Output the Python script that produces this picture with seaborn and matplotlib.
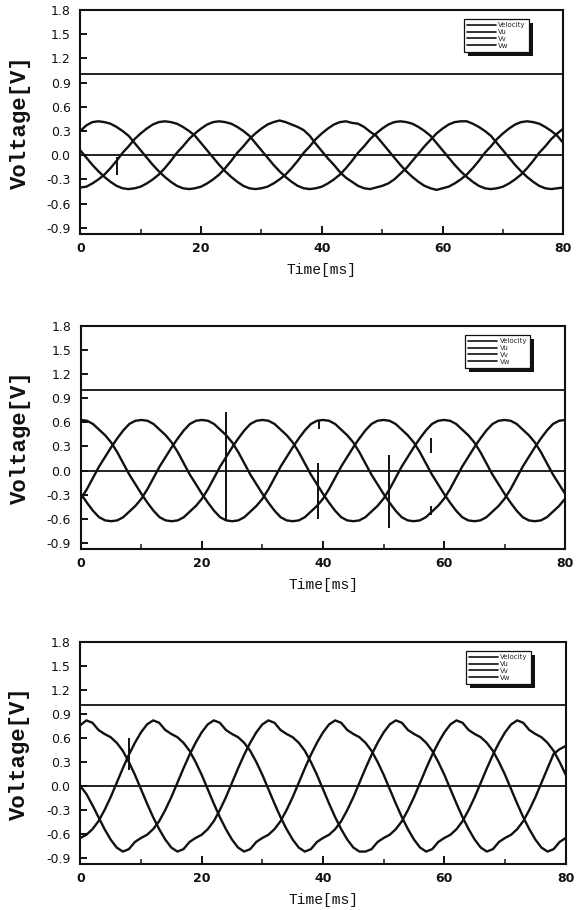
import numpy as np
import pandas as pd
import matplotlib.pyplot as plt
import seaborn as sns
from matplotlib.lines import Line2D
from matplotlib.patches import Rectangle

# sample times in ms (1 ms steps)
t = list(range(0, 81))

# ---- panel 1 (small amplitude) ----
vel_1 = [1.0, 1.0]
vu_1 = [0.30, 0.37, 0.41,
        0.42, 0.41, 0.39, 0.35, 0.30, 0.24, 0.15, 0.06, -0.03, -0.12, -0.20, -0.27, -0.33, -0.38, -0.41,
        -0.42, -0.41, -0.39, -0.35, -0.30, -0.24, -0.16, -0.07, 0.03, 0.11, 0.20, 0.27, 0.33, 0.38, 0.41,
        0.43, 0.41, 0.38, 0.35, 0.31, 0.24, 0.14, 0.05, -0.04, -0.12, -0.21, -0.28, -0.33, -0.38, -0.41,
        -0.42, -0.40, -0.38, -0.35, -0.30, -0.23, -0.16, -0.07, 0.02, 0.11, 0.19, 0.27, 0.33, 0.38, 0.41,
        0.42, 0.42, 0.39, 0.35, 0.30, 0.24, 0.15, 0.06, -0.03, -0.12, -0.20, -0.27, -0.33, -0.38, -0.41,
        -0.42, -0.41, -0.40]
vv_1 = [-0.40, -0.39, -0.35, -0.30, -0.24, -0.16, -0.07, 0.03, 0.11, 0.20, 0.27, 0.33, 0.38, 0.41,
        0.42, 0.41, 0.39, 0.35, 0.30, 0.24, 0.15, 0.06, -0.03, -0.12, -0.20, -0.27, -0.33, -0.38, -0.41,
        -0.42, -0.41, -0.39, -0.35, -0.30, -0.24, -0.16, -0.07, 0.03, 0.11, 0.20, 0.27, 0.33, 0.38, 0.41,
        0.42, 0.40, 0.39, 0.35, 0.29, 0.24, 0.15, 0.06, -0.03, -0.12, -0.20, -0.27, -0.33, -0.38, -0.41,
        -0.43, -0.41, -0.39, -0.35, -0.30, -0.24, -0.16, -0.07, 0.03, 0.11, 0.20, 0.27, 0.33, 0.38, 0.41,
        0.42, 0.41, 0.39, 0.35, 0.30, 0.24, 0.15]
vw_1 = [0.06, -0.03, -0.12, -0.20, -0.27, -0.33, -0.38, -0.41, -0.42, -0.41, -0.39, -0.35, -0.30,
        -0.24, -0.16, -0.07, 0.03, 0.11, 0.20, 0.27, 0.33, 0.38, 0.41,
        0.42, 0.41, 0.39, 0.35, 0.30, 0.24, 0.15, 0.06, -0.03, -0.12, -0.20, -0.27, -0.33, -0.38, -0.41,
        -0.42, -0.41, -0.39, -0.35, -0.30, -0.24, -0.16, -0.07, 0.03, 0.11, 0.20, 0.27, 0.33, 0.38, 0.41,
        0.42, 0.41, 0.39, 0.35, 0.30, 0.24, 0.15, 0.06, -0.03, -0.12, -0.20, -0.27, -0.33, -0.38, -0.41,
        -0.42, -0.41, -0.39, -0.35, -0.30, -0.24, -0.16, -0.07, 0.03, 0.11, 0.20, 0.27, 0.33]
spike_t_1 = [6.0]
spike_lo_1 = [-0.24]
spike_hi_1 = [-0.02]

# ---- panel 2 (medium amplitude) ----
vel_2 = [1.0, 1.0]
vu_2 = [0.63, 0.62, 0.58, 0.51, 0.44, 0.35, 0.23, 0.09, -0.05, -0.17, -0.29, -0.40, -0.50, -0.58, -0.62,
        -0.63, -0.62, -0.58, -0.51, -0.44, -0.35, -0.23, -0.09, 0.05, 0.17, 0.29, 0.40, 0.50, 0.58, 0.62,
        0.63, 0.62, 0.58, 0.51, 0.44, 0.35, 0.23, 0.09, -0.05, -0.17, -0.29, -0.40, -0.50, -0.58, -0.62,
        -0.63, -0.62, -0.58, -0.51, -0.44, -0.35, -0.23, -0.09, 0.05, 0.17, 0.29, 0.40, 0.50, 0.58, 0.62,
        0.63, 0.62, 0.58, 0.51, 0.44, 0.35, 0.23, 0.09, -0.05, -0.17, -0.29, -0.40, -0.50, -0.58, -0.62,
        -0.63, -0.62, -0.58, -0.51, -0.44, -0.35]
vv_2 = [-0.35, -0.23, -0.09, 0.05, 0.17, 0.29, 0.40, 0.50, 0.58, 0.62,
        0.63, 0.62, 0.58, 0.51, 0.44, 0.35, 0.23, 0.09, -0.05, -0.17, -0.29, -0.40, -0.50, -0.58, -0.62,
        -0.63, -0.62, -0.58, -0.51, -0.44, -0.35, -0.23, -0.09, 0.05, 0.17, 0.29, 0.40, 0.50, 0.58, 0.62,
        0.63, 0.62, 0.58, 0.51, 0.44, 0.35, 0.23, 0.09, -0.05, -0.17, -0.29, -0.40, -0.50, -0.58, -0.62,
        -0.63, -0.62, -0.58, -0.51, -0.44, -0.35, -0.23, -0.09, 0.05, 0.17, 0.29, 0.40, 0.50, 0.58, 0.62,
        0.63, 0.62, 0.58, 0.51, 0.44, 0.35, 0.23, 0.09, -0.05, -0.17, -0.29]
vw_2 = [-0.29, -0.40, -0.50, -0.58, -0.62, -0.63, -0.62, -0.58, -0.51, -0.44,
        -0.35, -0.23, -0.09, 0.05, 0.17, 0.29, 0.40, 0.50, 0.58, 0.62,
        0.63, 0.62, 0.58, 0.51, 0.44, 0.35, 0.23, 0.09, -0.05, -0.17, -0.29, -0.40, -0.50, -0.58, -0.62,
        -0.63, -0.62, -0.58, -0.51, -0.44, -0.35, -0.23, -0.09, 0.05, 0.17, 0.29, 0.40, 0.50, 0.58, 0.62,
        0.63, 0.62, 0.58, 0.51, 0.44, 0.35, 0.23, 0.09, -0.05, -0.17, -0.29, -0.40, -0.50, -0.58, -0.62,
        -0.63, -0.62, -0.58, -0.51, -0.44, -0.35, -0.23, -0.09, 0.05, 0.17, 0.29, 0.40, 0.50, 0.58, 0.62,
        0.63]
spike_t_2 = [24.0, 39.2, 39.4, 50.9, 57.9, 57.9]
spike_lo_2 = [-0.62, -0.60, 0.52, -0.71, 0.22, -0.55]
spike_hi_2 = [0.73, 0.10, 0.62, 0.20, 0.40, -0.44]

# ---- panel 3 (large amplitude) ----
vel_3 = [1.01, 1.01]
vu_3 = [0.76,
        0.82, 0.79, 0.70, 0.65, 0.61, 0.54, 0.44, 0.30, 0.14, -0.04, -0.22, -0.39, -0.54, -0.67, -0.77,
        -0.82, -0.79, -0.70, -0.65, -0.61, -0.54, -0.44, -0.30, -0.14, 0.04, 0.22, 0.39, 0.54, 0.67, 0.77,
        0.82, 0.79, 0.70, 0.65, 0.61, 0.54, 0.44, 0.30, 0.14, -0.04, -0.22, -0.39, -0.54, -0.67, -0.77,
        -0.82, -0.82, -0.79, -0.70, -0.65, -0.61, -0.54, -0.44, -0.30, -0.14, 0.04, 0.22, 0.39, 0.54, 0.67, 0.77,
        0.82, 0.79, 0.70, 0.65, 0.61, 0.54, 0.44, 0.30, 0.14, -0.04, -0.22, -0.39, -0.54, -0.67, -0.77,
        -0.82, -0.79, -0.70, -0.65]
vv_3 = [-0.65, -0.61, -0.54, -0.44, -0.30, -0.14, 0.04, 0.22, 0.39, 0.54, 0.67, 0.77,
        0.82, 0.79, 0.70, 0.65, 0.61, 0.54, 0.44, 0.30, 0.14, -0.04, -0.22, -0.39, -0.54, -0.67, -0.77,
        -0.82, -0.79, -0.70, -0.65, -0.61, -0.54, -0.44, -0.30, -0.14, 0.04, 0.22, 0.39, 0.54, 0.67, 0.77,
        0.82, 0.79, 0.70, 0.65, 0.61, 0.54, 0.44, 0.30, 0.14, -0.04, -0.22, -0.39, -0.54, -0.67, -0.77,
        -0.82, -0.79, -0.70, -0.65, -0.61, -0.54, -0.44, -0.30, -0.14, 0.04, 0.22, 0.39, 0.54, 0.67, 0.77,
        0.82, 0.79, 0.70, 0.65, 0.61, 0.54, 0.44, 0.30, 0.14]
vw_3 = [0.00, -0.10, -0.24, -0.39, -0.54, -0.67, -0.77,
        -0.82, -0.79, -0.70, -0.65, -0.61, -0.54, -0.44, -0.30, -0.14, 0.04, 0.22, 0.39, 0.54, 0.67, 0.77,
        0.82, 0.79, 0.70, 0.65, 0.61, 0.54, 0.44, 0.30, 0.14, -0.04, -0.22, -0.39, -0.54, -0.67, -0.77,
        -0.82, -0.79, -0.70, -0.65, -0.61, -0.54, -0.44, -0.30, -0.14, 0.04, 0.22, 0.39, 0.54, 0.67, 0.77,
        0.82, 0.79, 0.70, 0.65, 0.61, 0.54, 0.44, 0.30, 0.14, -0.04, -0.22, -0.39, -0.54, -0.67, -0.77,
        -0.82, -0.79, -0.70, -0.65, -0.61, -0.54, -0.44, -0.30, -0.14, 0.04, 0.22, 0.40, 0.46, 0.50]
spike_t_3 = [8.0]
spike_lo_3 = [0.20]
spike_hi_3 = [0.60]

vel_t = [0, 80]
legend_labels = ["Velocity", "Vu", "Vv", "Vw"]
y_ticks = [-0.9, -0.6, -0.3, 0.0, 0.3, 0.6, 0.9, 1.2, 1.5, 1.8]
x_ticks = [0, 20, 40, 60, 80]
x_minor = [10, 30, 50, 70]

panels = [
    (vel_1, vu_1, vv_1, vw_1, spike_t_1, spike_lo_1, spike_hi_1),
    (vel_2, vu_2, vv_2, vw_2, spike_t_2, spike_lo_2, spike_hi_2),
    (vel_3, vu_3, vv_3, vw_3, spike_t_3, spike_lo_3, spike_hi_3),
]

sns.set_style("ticks")
plt.rcParams['font.family'] = ['DejaVu Sans']

ink = "#111111"
fig = plt.figure(figsize=(5.82, 9.10), dpi=100)
boxes = [[0.138, 0.7429, 0.830, 0.2462],
         [0.139, 0.3967, 0.832, 0.2451],
         [0.138, 0.0505, 0.834, 0.2440]]

legends = []
axes = []
for box, (vel, vu, vv, vw, sp_t, sp_lo, sp_hi) in zip(boxes, panels):
    ax = fig.add_axes(box)
    axes.append(ax)
    df = pd.DataFrame({
        "time": t * 3,
        "voltage": vu + vv + vw,
        "phase": ["Vu"] * len(t) + ["Vv"] * len(t) + ["Vw"] * len(t),
    })
    sns.lineplot(data=df, x="time", y="voltage", units="phase", estimator=None,
                 color=ink, lw=1.7, ax=ax, legend=False)
    sns.lineplot(x=vel_t, y=vel, color=ink, lw=1.3, ax=ax, legend=False)
    ax.axhline(0.0, color=ink, lw=1.3)
    ax.vlines(sp_t, sp_lo, sp_hi, color=ink, lw=1.4)

    ax.set_xlim(0, 80)
    ax.set_ylim(-0.976, 1.8)
    ax.set_yticks(y_ticks)
    ax.set_yticklabels([f"{v:.1f}" for v in y_ticks])
    ax.set_xticks(x_ticks)
    ax.set_xticks(x_minor, minor=True)
    for side in ["top", "right", "left", "bottom"]:
        ax.spines[side].set_visible(True)
        ax.spines[side].set_linewidth(1.5)
        ax.spines[side].set_color(ink)
    ax.tick_params(axis="y", direction="in", length=5, width=1.4, labelsize=9,
                   pad=7, colors=ink)
    ax.tick_params(axis="x", which="major", direction="in", length=6, width=1.4,
                   labelsize=9, pad=6, colors=ink)
    ax.tick_params(axis="x", which="minor", direction="in", length=3.5, width=1.2)
    for lbl in ax.get_xticklabels():
        lbl.set_fontweight("bold")

    ax.set_xlabel("Time[ms]", fontfamily="Liberation Mono", fontsize=10.5, color=ink)
    ax.set_ylabel("Voltage[V]", fontfamily="Liberation Mono", fontsize=16,
                  fontweight="bold", color=ink)
    ax.xaxis.set_label_coords(0.5, -0.13)
    ax.yaxis.set_label_coords(-0.103, 0.5)

    handles = [Line2D([], [], color=ink, lw=1.2) for _ in legend_labels]
    leg = ax.legend(handles, legend_labels, loc="upper right", bbox_to_anchor=(0.935, 0.975),
                    fontsize=5, handlelength=4.2, handletextpad=0.3, labelspacing=0.12,
                    borderpad=0.45, frameon=True, fancybox=False, framealpha=1)
    leg.get_frame().set_facecolor("white")
    leg.get_frame().set_edgecolor(ink)
    leg.get_frame().set_linewidth(0.9)
    leg.set_zorder(6)
    legends.append(leg)

# dark drop shadow behind each legend box
fig.canvas.draw()
for ax, leg in zip(axes, legends):
    bb = leg.get_frame().get_window_extent()
    shadow = Rectangle((bb.x0 + 4, bb.y0 - 4), bb.width, bb.height, transform=None,
                       facecolor=ink, edgecolor="none", zorder=5.5)
    ax.add_artist(shadow)

fig.savefig("out.png", dpi=100)
